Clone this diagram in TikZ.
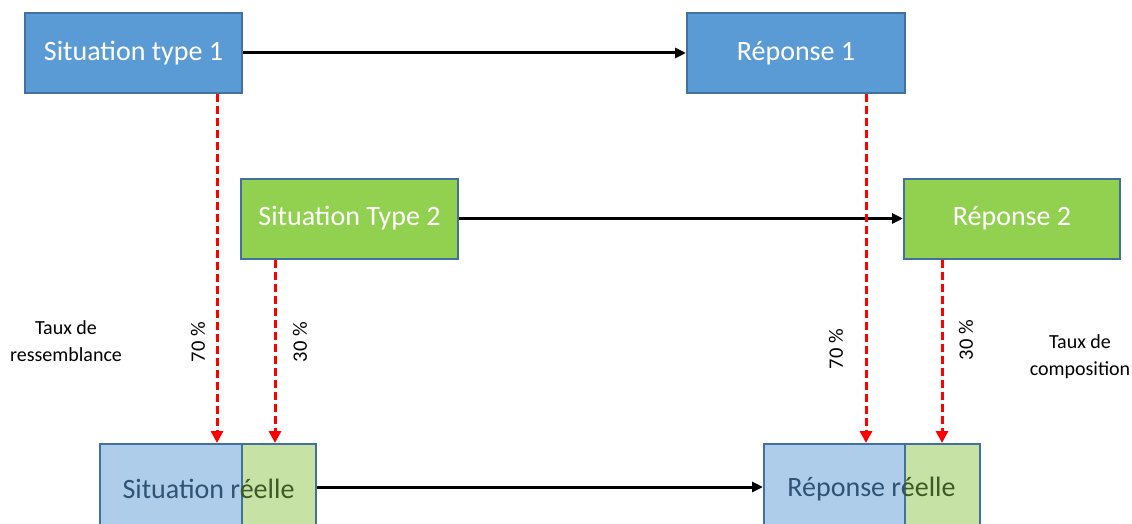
\documentclass[tikz,border=0pt]{standalone}
\usepackage{fontspec}
\setmainfont{Carlito}
\usetikzlibrary{arrows.meta}
\definecolor{topblue}{HTML}{5B9BD5}
\definecolor{edgeblue}{HTML}{41719C}
\definecolor{topgreen}{HTML}{92D050}
\definecolor{lowblue}{HTML}{AECDEA}
\definecolor{lowgreen}{HTML}{C6E2A5}
\definecolor{textblue}{HTML}{2F5375}
\definecolor{textgreen}{HTML}{3D5A25}
\tikzset{
  box/.style={draw=edgeblue, line width=2pt, minimum height=80pt, inner sep=0pt, text=white, font=\fontsize{28}{33}\selectfont},
  bluebox/.style={box, fill=topblue, minimum width=217pt},
  greenbox/.style={box, fill=topgreen, minimum width=217pt},
  lowbox/.style={draw=edgeblue, line width=2pt, minimum height=86pt, inner sep=0pt},
  lowtext/.style={inner sep=0pt, font=\fontsize{28}{33}\selectfont},
  flow/.style={line width=3pt, -{Triangle[length=11pt,width=10pt]}},
  link/.style={red, line width=3pt, dash pattern=on 8pt off 4pt, -{Triangle[length=12pt,width=12pt]}},
  pct/.style={rotate=90, inner sep=0pt, font=\fontsize{20.5}{25}\selectfont},
  note/.style={align=center, inner sep=0pt, font=\fontsize{20}{27}\selectfont}
}
\begin{document}
\begin{tikzpicture}[x=1pt, y=-1pt]
\clip (0,0) rectangle (1132,524);
\fill[white] (0,0) rectangle (1132,524);

\node[bluebox] (s1) at (133.5,53) {Situation type 1};
\node[bluebox, minimum width=218pt] (r1) at (796,53) {Réponse 1};
\node[greenbox] (s2) at (349.5,218.5) {Situation Type 2};
\node[greenbox, minimum width=216pt] (r2) at (1012,218.5) {Réponse 2};

\node[lowbox, fill=lowblue, minimum width=142pt] (sra) at (171,487) {};
\node[lowbox, fill=lowgreen, minimum width=74pt] (srb) at (279,487) {};
\node[lowbox, fill=lowblue, minimum width=141pt] (rpa) at (834.5,487) {};
\node[lowbox, fill=lowgreen, minimum width=75pt] (rpb) at (942.5,487) {};

\begin{scope}
\clip (sra.north west) rectangle (sra.south east);
\node[lowtext, text=textblue] (srt1) at (208.5,489) {Situation réelle};
\end{scope}
\begin{scope}
\clip (srb.north west) rectangle (srb.south east);
\node[lowtext, text=textgreen] (srt2) at (208.5,489) {Situation réelle};
\end{scope}
\begin{scope}
\clip (rpa.north west) rectangle (rpa.south east);
\node[lowtext, text=textblue] (rpt1) at (871.5,489) {Réponse réelle};
\end{scope}
\begin{scope}
\clip (rpb.north west) rectangle (rpb.south east);
\node[lowtext, text=textgreen] (rpt2) at (871.5,489) {Réponse réelle};
\end{scope}

\draw[flow] (s1.east) -- (r1.west);
\draw[flow] (s2.east) -- (r2.west);
\draw[flow] (srb.east) -- (rpa.west);

\draw[link] ([xshift=-26pt]s1.south east) -- ([xshift=-26pt]s1.south east |- sra.north);
\draw[link] ([xshift=35pt]s2.south west) -- ([xshift=35pt]s2.south west |- srb.north);
\draw[link] ([xshift=-40pt]r1.south east) -- ([xshift=-40pt]r1.south east |- rpa.north);
\draw[link] ([xshift=39pt]r2.south west) -- ([xshift=39pt]r2.south west |- rpb.north);

\node[pct] (p1) at (198,342) {70 \%};
\node[pct] (p2) at (300,342) {30 \%};
\node[pct] (p3) at (836,349) {70 \%};
\node[pct] (p4) at (966,340) {30 \%};

\node[note] (n1) at (66,341) {Taux de\\ressemblance};
\node[note] (n2) at (1080,357) {Taux de\\composition};
\end{tikzpicture}
\end{document}
